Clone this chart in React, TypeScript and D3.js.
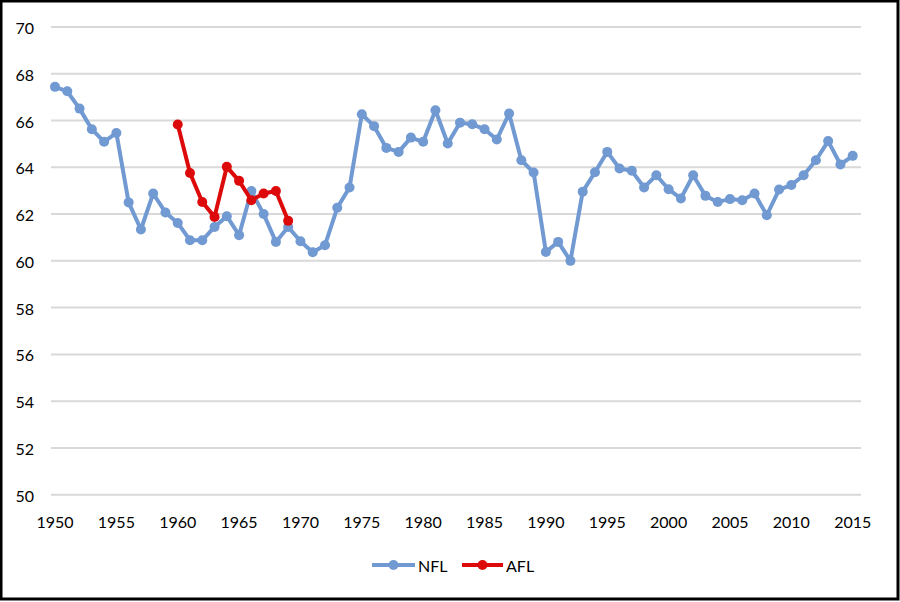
// Completion percentage by season, NFL vs AFL
import * as d3 from "d3"

const nflYears = d3.range(1950, 2016)
const nflValues = [
  67.44, 67.25, 66.51, 65.63, 65.09, 65.47, 62.5, 61.34, 62.88, 62.07,
  61.62, 60.88, 60.88, 61.45, 61.91, 61.1, 62.99, 62.0, 60.81, 61.45,
  60.84, 60.37, 60.67, 62.27, 63.14, 66.27, 65.76, 64.83, 64.66, 65.27,
  65.09, 66.44, 65.02, 65.91, 65.84, 65.63, 65.19, 66.3, 64.3, 63.78,
  60.38, 60.81, 60.0, 62.96, 63.79, 64.66, 63.95, 63.85, 63.14, 63.66,
  63.06, 62.67, 63.66, 62.78, 62.52, 62.64, 62.59, 62.88, 61.95, 63.05,
  63.24, 63.66, 64.3, 65.12, 64.12, 64.49,
]

const aflYears = d3.range(1960, 1970)
const aflValues = [65.83, 63.76, 62.52, 61.88, 64.02, 63.42, 62.59, 62.88, 62.99, 61.71]

const yTicks = [50, 52, 54, 56, 58, 60, 62, 64, 66, 68, 70]
const xTicks = d3.range(1950, 2016, 5)

const NFL_COLOR = "#7199d2"
const AFL_COLOR = "#dc0a0a"
const FONT = "Lato, 'Open Sans', sans-serif"

const W = 900
const H = 602

export default function App() {
  const x = d3.scaleLinear().domain([1950, 2015]).range([55, 852.7])
  const y = d3.scaleLinear().domain([50, 70]).range([494.7, 27])

  const line = d3.line<[number, number]>()
    .x(d => x(d[0]))
    .y(d => y(d[1]))

  const nfl: [number, number][] = nflYears.map((yr, i) => [yr, nflValues[i]])
  const afl: [number, number][] = aflYears.map((yr, i) => [yr, aflValues[i]])

  const series = [
    { name: "NFL", color: NFL_COLOR, data: nfl },
    { name: "AFL", color: AFL_COLOR, data: afl },
  ]

  // legend positions
  const legend = [
    { name: "NFL", color: NFL_COLOR, x0: 372, x1: 415 },
    { name: "AFL", color: AFL_COLOR, x0: 462, x1: 503 },
  ]

  return (
    <div style={{ position: "absolute", left: 0, top: 0 }}>
      <svg width={W} height={H} style={{ display: "block", background: "#fff" }}>
        {/* grid */}
        {yTicks.map(t => (
          <g key={t}>
            <line x1={51} x2={861} y1={y(t)} y2={y(t)} stroke="#d9d9d9" strokeWidth={2} />
            <text x={34} y={y(t) + 1.5} dy="0.35em" textAnchor="end" fontFamily={FONT} fontSize={16} fill="#000">
              {t}
            </text>
          </g>
        ))}

        {/* x labels */}
        {xTicks.map(t => (
          <text key={t} x={x(t)} y={522} dy="0.35em" textAnchor="middle" fontFamily={FONT} fontSize={16} fill="#000">
            {t}
          </text>
        ))}

        {/* series */}
        {series.map(s => (
          <g key={s.name}>
            <path d={line(s.data) || ""} fill="none" stroke={s.color} strokeWidth={4} strokeLinejoin="round" />
            {s.data.map(d => (
              <circle key={d[0]} cx={x(d[0])} cy={y(d[1])} r={5} fill={s.color} />
            ))}
          </g>
        ))}

        {/* legend */}
        {legend.map(l => (
          <g key={l.name}>
            <line x1={l.x0} x2={l.x1} y1={565} y2={565} stroke={l.color} strokeWidth={4} />
            <circle cx={(l.x0 + l.x1) / 2} cy={565} r={5} fill={l.color} />
            <text x={l.x1 + 3} y={566} dy="0.35em" fontFamily={FONT} fontSize={16} fill="#000">
              {l.name}
            </text>
          </g>
        ))}

        {/* frame */}
        <rect x={1} y={1} width={W - 3} height={H - 4} fill="none" stroke="#000" strokeWidth={3} />
      </svg>
    </div>
  )
}
